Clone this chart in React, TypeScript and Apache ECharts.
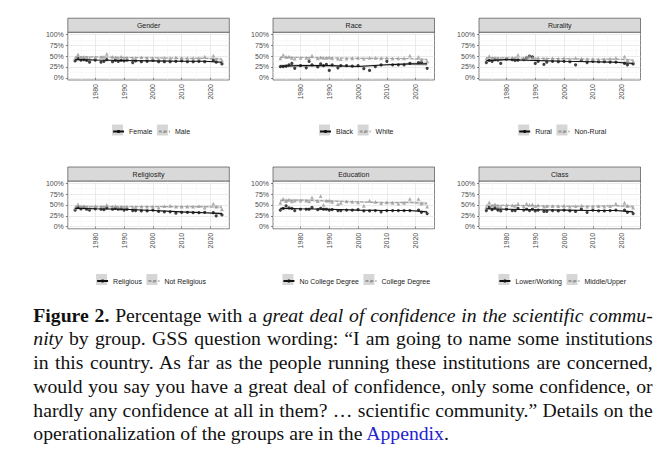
import React, { useEffect, useRef } from 'react';
import * as echarts from 'echarts';

// ---------- data ----------
const YEARS = [1973, 1974, 1975, 1976, 1977, 1978, 1980, 1982, 1983, 1984, 1986, 1987, 1988, 1989, 1990, 1991, 1993, 1994, 1996, 1998, 2000, 2002, 2004, 2006, 2008, 2010, 2012, 2014, 2016, 2018, 2021, 2022, 2024];
const TREND_YEARS = [1973, 1980, 1990, 2000, 2010, 2018, 2024];
const X_TICKS = [1980, 1990, 2000, 2010, 2020];
const X_MINOR = [1975, 1985, 1995, 2005, 2015, 2025];
const Y_TICKS = [0, 25, 50, 75, 100];
const Y_MINOR = [12.5, 37.5, 62.5, 87.5];

const FEMALE = [39, 45, 41, 42, 40, 36, 41, 36, 38, 42, 37, 40, 38, 40, 39, 41, 35, 39, 37, 38, 40, 37, 37, 37, 38, 39, 37, 37, 38, 37, 40, 36, 32];
const MALE = [45, 54, 47, 48, 47, 45, 47, 48, 48, 55, 48, 47, 46, 49, 46, 46, 45, 45, 47, 46, 45, 44, 46, 45, 47, 46, 45, 45, 45, 49, 51, 42, 40];
const FEMALE_TREND = [42, 41, 40, 39, 38, 38, 36];
const FEMALE_CI = [2.5, 1.5, 1.2, 1.2, 1.2, 1.5, 3];
const MALE_TREND = [48, 48, 47, 46, 45, 45, 43];
const MALE_CI = [2.5, 1.5, 1.2, 1.2, 1.2, 1.5, 3];

const BLACK = [26, 26, 27, 30, 33, 22, 28, 23, 38, 30, 25, 32, 28, 31, 17, 30, 23, 28, 28, 27, 28, 21, 17, 26, 30, 38, 30, 30, 30, 33, 35, 36, 22];
const WHITE = [45, 53, 48, 49, 46, 44, 46, 46, 45, 51, 45, 47, 46, 46, 47, 45, 44, 43, 44, 45, 46, 44, 46, 46, 45, 46, 44, 45, 45, 51, 48, 41, 38];
const BLACK_TREND = [27, 28, 28, 26, 30, 32, 32];
const BLACK_CI = [4, 3, 2.5, 2.5, 2.5, 3, 5];
const WHITE_TREND = [47, 47, 46, 45, 45, 44, 42];
const WHITE_CI = [2, 1.2, 1, 1, 1, 1.3, 2.5];

const RURAL = [35, 40, 38, 42, 41, 33, 43, 42, 40, 41, 42, 46, 50, 48, 33, 38, 31, 36, 38, 37, 38, 37, 30, 40, 35, 38, 37, 37, 36, 36, 33, 30, 32];
const NONRURAL = [44, 50, 45, 46, 44, 43, 45, 46, 46, 53, 45, 48, 50, 46, 44, 45, 44, 44, 45, 44, 46, 43, 46, 44, 43, 43, 42, 43, 44, 46, 49, 40, 38];
const RURAL_TREND = [40, 42, 40, 38, 37, 36, 33];
const RURAL_CI = [3, 2, 1.8, 1.8, 1.8, 2, 3.5];
const NONRURAL_TREND = [46, 46, 45, 44, 43, 43, 41];
const NONRURAL_CI = [2, 1.3, 1, 1, 1, 1.3, 2.5];

const RELIGIOUS = [38, 44, 41, 44, 40, 38, 41, 40, 39, 43, 40, 42, 40, 41, 38, 40, 37, 37, 36, 36, 38, 35, 34, 34, 31, 33, 33, 32, 32, 33, 32, 25, 27];
const NONRELIGIOUS = [43, 51, 46, 47, 45, 43, 47, 46, 46, 50, 46, 47, 45, 46, 45, 46, 44, 45, 46, 46, 46, 44, 47, 48, 46, 46, 46, 46, 47, 44, 53, 46, 40];
const RELIGIOUS_TREND = [42, 41, 40, 37, 34, 32, 30];
const RELIGIOUS_CI = [2.5, 1.5, 1.2, 1.2, 1.3, 1.8, 3.5];
const NONRELIGIOUS_TREND = [46, 46, 46, 46, 46, 46, 45];
const NONRELIGIOUS_CI = [3, 2, 1.5, 1.5, 1.5, 1.8, 3.5];

const NOCOLLEGE = [38, 42, 48, 43, 42, 37, 40, 40, 40, 44, 39, 42, 40, 40, 38, 39, 37, 37, 38, 38, 39, 36, 36, 37, 34, 37, 37, 37, 37, 37, 38, 33, 30];
const COLLEGE = [55, 64, 59, 62, 58, 60, 60, 60, 58, 67, 59, 70, 50, 60, 60, 57, 52, 55, 58, 57, 56, 48, 60, 57, 54, 56, 55, 53, 55, 64, 64, 53, 46];
const NOCOLLEGE_TREND = [42, 41, 40, 38, 37, 37, 34];
const NOCOLLEGE_CI = [2, 1.2, 1, 1, 1, 1.3, 2.5];
const COLLEGE_TREND = [60, 61, 59, 57, 55, 56, 53];
const COLLEGE_CI = [4, 2.5, 2, 2, 2, 2.5, 4];

const LOWER = [37, 44, 39, 43, 38, 36, 40, 37, 37, 42, 38, 40, 37, 40, 36, 38, 35, 35, 37, 36, 38, 36, 35, 40, 33, 38, 36, 36, 37, 38, 38, 33, 30];
const MIDDLE = [45, 56, 48, 51, 47, 46, 49, 49, 48, 53, 47, 53, 50, 51, 47, 49, 46, 47, 47, 47, 48, 46, 47, 48, 46, 46, 47, 46, 47, 53, 55, 48, 44];
const LOWER_TREND = [41, 40, 39, 38, 37, 37, 34];
const LOWER_CI = [2, 1.3, 1, 1, 1, 1.3, 2.5];
const MIDDLE_TREND = [49, 49, 48, 47, 47, 48, 46];
const MIDDLE_CI = [2.5, 1.5, 1.2, 1.2, 1.2, 1.5, 3];

const PANELS = [
  { title: 'Gender', names: ['Female', 'Male'], pts: [FEMALE, MALE], trend: [FEMALE_TREND, MALE_TREND], ci: [FEMALE_CI, MALE_CI] },
  { title: 'Race', names: ['Black', 'White'], pts: [BLACK, WHITE], trend: [BLACK_TREND, WHITE_TREND], ci: [BLACK_CI, WHITE_CI] },
  { title: 'Rurality', names: ['Rural', 'Non-Rural'], pts: [RURAL, NONRURAL], trend: [RURAL_TREND, NONRURAL_TREND], ci: [RURAL_CI, NONRURAL_CI] },
  { title: 'Religiosity', names: ['Religious', 'Not Religious'], pts: [RELIGIOUS, NONRELIGIOUS], trend: [RELIGIOUS_TREND, NONRELIGIOUS_TREND], ci: [RELIGIOUS_CI, NONRELIGIOUS_CI] },
  { title: 'Education', names: ['No College Degree', 'College Degree'], pts: [NOCOLLEGE, COLLEGE], trend: [NOCOLLEGE_TREND, COLLEGE_TREND], ci: [NOCOLLEGE_CI, COLLEGE_CI] },
  { title: 'Class', names: ['Lower/Working', 'Middle/Upper'], pts: [LOWER, MIDDLE], trend: [LOWER_TREND, MIDDLE_TREND], ci: [LOWER_CI, MIDDLE_CI] },
];

// ---------- layout / style ----------
const FONT = '"Liberation Sans", Arial, sans-serif';
const COL_LEFT = [67.8, 273, 479];
const ROW_TOP = [32.2, 181];
const PANEL_W = 161.5;
const PANEL_H = 47.8;
const STRIP_H = 14;
const LEGEND_CY = [130, 279.5];
const X_MIN = 1970.45;
const X_MAX = 2026.55;
const Y_MIN = -5;
const Y_MAX = 105;
const COLORS = ['#111111', '#9a9a9a'];
const SYMBOLS = ['circle', 'triangle'];

function buildOption() {
  const ctx = document.createElement('canvas').getContext('2d') as CanvasRenderingContext2D;
  ctx.font = `7px ${FONT}`;
  const grid: any[] = [];
  const xAxis: any[] = [];
  const yAxis: any[] = [];
  const series: any[] = [];
  const legend: any[] = [];
  const graphic: any[] = [];

  PANELS.forEach((p, i) => {
    const col = i % 3;
    const row = Math.floor(i / 3);
    const left = COL_LEFT[col];
    const top = ROW_TOP[row];
    grid.push({
      left, top, width: PANEL_W, height: PANEL_H,
      show: true, backgroundColor: '#ffffff', borderColor: '#333333', borderWidth: 0.6,
      containLabel: false, outerBoundsMode: 'none',
    });
    // major x
    xAxis.push({
      gridIndex: i, type: 'value', min: X_MIN, max: X_MAX, position: 'bottom',
      axisLine: { show: false },
      axisTick: { show: true, length: 2, lineStyle: { color: '#333333', width: 0.6 }, customValues: X_TICKS },
      axisLabel: {
        customValues: X_TICKS, rotate: 90, fontSize: 7, color: '#4d4d4d', margin: 4, fontFamily: FONT,
        formatter: (v: number) => String(v),
      },
      splitLine: { show: true, lineStyle: { color: '#e6e6e6', width: 0.8 } },
    });
    // minor x
    xAxis.push({
      gridIndex: i, type: 'value', min: X_MIN, max: X_MAX, position: 'top',
      axisLine: { show: false },
      axisTick: { show: false, customValues: X_MINOR },
      axisLabel: { show: false },
      splitLine: { show: true, lineStyle: { color: '#f2f2f2', width: 0.5 } },
    });
    yAxis.push({
      gridIndex: i, type: 'value', min: Y_MIN, max: Y_MAX, position: 'left',
      axisLine: { show: false },
      axisTick: { show: true, length: 2, lineStyle: { color: '#333333', width: 0.6 }, customValues: Y_TICKS },
      axisLabel: {
        customValues: Y_TICKS, fontSize: 7, color: '#4d4d4d', margin: 4, fontFamily: FONT,
        formatter: (v: number) => `${v}%`,
      },
      splitLine: { show: true, lineStyle: { color: '#e6e6e6', width: 0.8 } },
    });
    yAxis.push({
      gridIndex: i, type: 'value', min: Y_MIN, max: Y_MAX, position: 'right',
      axisLine: { show: false },
      axisTick: { show: false, customValues: Y_MINOR },
      axisLabel: { show: false },
      splitLine: { show: true, lineStyle: { color: '#f2f2f2', width: 0.5 } },
    });

    const xi = 2 * i;
    [0, 1].forEach((g) => {
      const trend = p.trend[g];
      const ci = p.ci[g];
      // points
      series.push({
        type: 'scatter', name: p.names[g] + ' points', xAxisIndex: xi, yAxisIndex: xi,
        data: YEARS.map((yr, k) => [yr, p.pts[g][k]]),
        symbol: SYMBOLS[g], symbolSize: g === 0 ? 3.2 : 3.8,
        itemStyle: { color: COLORS[g] }, silent: true, z: 3,
      });
      // confidence band
      series.push({
        type: 'custom', name: p.names[g] + ' band', xAxisIndex: xi, yAxisIndex: xi,
        data: [[TREND_YEARS[0], trend[0]]], silent: true, z: 2, clip: true,
        renderItem: (params: any, api: any) => {
          const upper = TREND_YEARS.map((yr, k) => api.coord([yr, trend[k] + ci[k]]));
          const lower = TREND_YEARS.map((yr, k) => api.coord([yr, trend[k] - ci[k]])).reverse();
          return { type: 'polygon', shape: { points: upper.concat(lower) }, style: { fill: 'rgba(153,153,153,0.4)' } };
        },
      });
      // trend line
      series.push({
        type: 'line', name: p.names[g], xAxisIndex: xi, yAxisIndex: xi,
        data: TREND_YEARS.map((yr, k) => [yr, trend[k]]),
        symbol: SYMBOLS[g], showSymbol: false, smooth: false,
        lineStyle: g === 0 ? { color: COLORS[0], width: 1.1 } : { color: COLORS[1], width: 1, type: [3, 2] },
        itemStyle: { color: COLORS[g], borderWidth: 0 }, silent: true, z: 4,
      });
    });

    // strip
    graphic.push({
      type: 'rect', shape: { x: left, y: top - STRIP_H, width: PANEL_W, height: STRIP_H },
      style: { fill: '#d9d9d9', stroke: '#333333', lineWidth: 0.6 }, z: 10, silent: true,
    });
    graphic.push({
      type: 'text', x: left + PANEL_W / 2, y: top - STRIP_H / 2,
      style: { text: p.title, align: 'center', verticalAlign: 'middle', fontSize: 7, fill: '#1a1a1a', fontFamily: FONT },
      z: 11, silent: true,
    });

    // legend
    const w1 = ctx.measureText(p.names[0]).width;
    const w2 = ctx.measureText(p.names[1]).width;
    const gap = 5.5;
    const total = 2 * (11 + 5) + w1 + w2 + gap;
    const cx = left + PANEL_W / 2 + 1.5;
    const lx = cx - total / 2;
    const cy = LEGEND_CY[row];
    legend.push({
      data: p.names, left: lx, top: cy - 2, orient: 'horizontal', padding: 0,
      itemWidth: 11, itemHeight: 4, itemGap: gap, selectedMode: false, z: 6,
      itemStyle: { borderWidth: 0 },
      textStyle: { fontSize: 7, color: '#1a1a1a', fontFamily: FONT },
    });
    [lx, lx + 16 + w1 + gap].forEach((kx) => {
      graphic.push({
        type: 'rect', shape: { x: kx, y: cy - 5.5, width: 11, height: 11 },
        style: { fill: '#d6d6d6' }, z: 1, silent: true,
      });
    });
  });

  return {
    animation: false,
    backgroundColor: '#ffffff',
    grid, xAxis, yAxis, series, legend, graphic,
    tooltip: { show: false },
  };
}

function Chart() {
  const ref = useRef<HTMLDivElement>(null);
  useEffect(() => {
    if (!ref.current) return;
    const chart = echarts.init(ref.current, undefined, { renderer: 'svg' });
    chart.setOption(buildOption() as any);
    return () => chart.dispose();
  }, []);
  return <div ref={ref} style={{ position: 'absolute', left: 0, top: 0, width: 671, height: 300 }} />;
}

const lineStyle: React.CSSProperties = { textAlign: 'justify', textAlignLast: 'justify', height: '23.7px', overflow: 'hidden' };

export default function App() {
  return (
    <div style={{ position: 'absolute', left: 0, top: 0, width: 671, height: 457, background: '#ffffff', overflow: 'hidden' }}>
      <Chart />
      <div
        style={{
          position: 'absolute', left: 33.3, top: 303.8, width: 619.4,
          fontFamily: '"Liberation Serif", "Times New Roman", serif', fontSize: 19.7, lineHeight: '23.7px', color: '#111111',
        }}
      >
        <div style={lineStyle}><b>Figure 2.</b> Percentage with a <i>great deal of confidence in the scientific commu-</i></div>
        <div style={lineStyle}><i>nity</i> by group. GSS question wording: “I am going to name some institutions</div>
        <div style={lineStyle}>in this country. As far as the people running these institutions are concerned,</div>
        <div style={lineStyle}>would you say you have a great deal of confidence, only some confidence, or</div>
        <div style={lineStyle}>hardly any confidence at all in them? …  scientific community.” Details on the</div>
        <div style={{ height: '23.7px' }}>operationalization of the groups are in the <span style={{ color: '#2323d2' }}>Appendix</span>.</div>
      </div>
    </div>
  );
}
